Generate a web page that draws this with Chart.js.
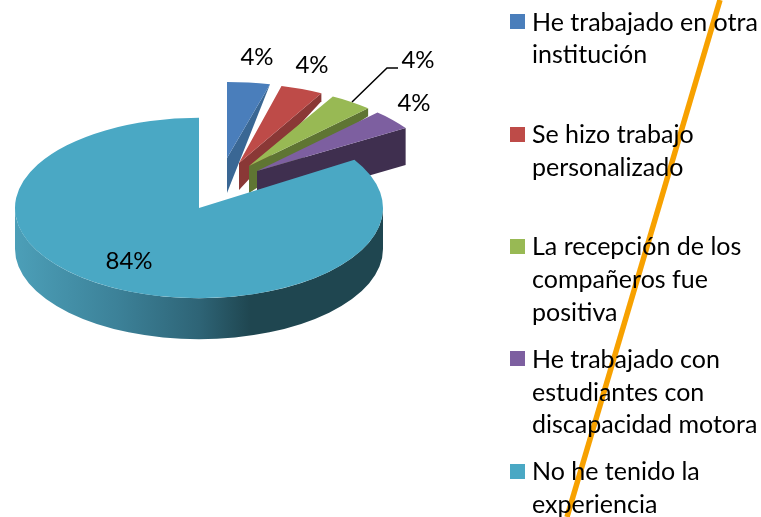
<!DOCTYPE html>
<html lang="es">
<head>
  <meta charset="UTF-8" />
  <title>Experiencia</title>
  <script src="https://cdn.jsdelivr.net/npm/chart.js"></script>
  <style>
    html, body { margin: 0; padding: 0; background: #fff; }
    #page { position: relative; width: 761px; height: 517px; overflow: hidden; font-family: Lato, sans-serif; color: #000; }
    canvas { position: absolute; left: 0; top: 0; }
    #legend { position: absolute; left: 510px; top: 4.7px; margin: 0; padding: 0; list-style: none; width: 251px; }
    #legend li { position: relative; height: 112.4px; padding-left: 22px; box-sizing: border-box; font-size: 25px; line-height: 32.7px; }
    #legend i { position: absolute; left: 0; top: 9.5px; width: 15px; height: 15px; }
  </style>
</head>
<body>
  <div id="page">
    <canvas id="lineCanvas" width="761" height="517"></canvas>
    <canvas id="pieCanvas" width="761" height="517"></canvas>
    <ul id="legend"></ul>
  </div>

  <script>
    const categories = [
      'He trabajado en otra institución',
      'Se hizo trabajo personalizado',
      'La recepción de los compañeros fue positiva',
      'He trabajado con estudiantes con discapacidad motora',
      'No he tenido la experiencia'
    ];
    const percents = [4, 4, 4, 4, 84];
    const lineXs = [720, 567];
    const lineYs = [0, 517];

    const topColors = ['#4a7ebb', '#be4b48', '#98b954', '#7d5fa0', '#4aa8c4'];
    const wallColors = ['#3a6794', '#8a3836', '#5f7533', '#3f2f4f'];

    // where each slice sits and how it is squashed, the picture is not a true projection
    const sliceShape = [
      { dx: 28, dy: -50, r: 173, sy: 0.44, apexDepth: 35, endDepth: 0 },
      { dx: 40, dy: -45, r: 171, sy: 0.465, apexDepth: 27, endDepth: 8 },
      { dx: 50, dy: -42, r: 174, sy: 0.455, apexDepth: 27, endDepth: 8 },
      { dx: 58, dy: -37, r: 176, sy: 0.455, apexDepth: 37, endDepth: 37 },
      { dx: 0, dy: 0, r: 184, sy: 0.49, apexDepth: 41, endDepth: 41 }
    ];
    const labelSpots = [[257, 57], [312, 65], [418, 60], [414, 103], [129, 261]];
    const leader = [[352, 102], [387, 68], [398, 68]];

    function tealWall(ctx, arc, shape) {
      const cx = arc.x, cy = arc.y;
      const grad = ctx.createLinearGradient(cx - shape.r, 0, cx + shape.r, 0);
      grad.addColorStop(0, '#4c9fb8');
      grad.addColorStop(0.28, '#3c8198');
      grad.addColorStop(0.5, '#2e6476');
      grad.addColorStop(0.64, '#1f4650');
      grad.addColorStop(1, '#1f4650');
      ctx.beginPath();
      ctx.ellipse(cx, cy, shape.r, shape.r * shape.sy, 0, 0, Math.PI);
      ctx.ellipse(cx, cy + shape.apexDepth, shape.r, shape.r * shape.sy, 0, Math.PI, 0, true);
      ctx.closePath();
      ctx.fillStyle = grad;
      ctx.fill();
    }

    function sliceWall(ctx, arc, shape, color) {
      const ax = arc.x + shape.dx, ay = arc.y + shape.dy;
      const ex = ax + Math.cos(arc.endAngle) * shape.r;
      const ey = ay + Math.sin(arc.endAngle) * shape.r * shape.sy;
      ctx.beginPath();
      ctx.moveTo(ax, ay);
      ctx.lineTo(ex, ey);
      ctx.lineTo(ex, ey + shape.endDepth);
      ctx.lineTo(ax, ay + shape.apexDepth);
      ctx.closePath();
      ctx.fillStyle = color;
      ctx.fill();
    }

    const pie3d = {
      id: 'pie3d',
      beforeDatasetDraw(chart, args) {
        const ctx = chart.ctx;
        args.meta.data.forEach((arc, i) => {
          const shape = sliceShape[i];
          if (i === 4) tealWall(ctx, arc, shape);
          else sliceWall(ctx, arc, shape, wallColors[i]);
          const k = shape.r / arc.outerRadius;
          ctx.save();
          ctx.translate(arc.x + shape.dx, arc.y + shape.dy);
          ctx.scale(k, k * shape.sy);
          ctx.translate(-arc.x, -arc.y);
          arc.draw(ctx);
          ctx.restore();
        });
        return false;
      },
      afterDatasetsDraw(chart) {
        const ctx = chart.ctx;
        ctx.save();
        ctx.strokeStyle = '#000';
        ctx.lineWidth = 1.5;
        ctx.beginPath();
        leader.forEach((p, i) => i ? ctx.lineTo(p[0], p[1]) : ctx.moveTo(p[0], p[1]));
        ctx.stroke();
        ctx.fillStyle = '#000';
        ctx.font = '24px Lato';
        ctx.textAlign = 'center';
        ctx.textBaseline = 'middle';
        percents.forEach((v, i) => ctx.fillText(v + '%', labelSpots[i][0], labelSpots[i][1]));
        ctx.restore();
      }
    };

    new Chart(document.getElementById('pieCanvas'), {
      type: 'pie',
      data: {
        labels: categories,
        datasets: [{ data: percents, backgroundColor: topColors, borderWidth: 0 }]
      },
      options: {
        responsive: false,
        animation: false,
        layout: { padding: { left: 15, right: 378, top: 24, bottom: 125 } },
        plugins: { legend: { display: false }, tooltip: { enabled: false } }
      },
      plugins: [pie3d]
    });

    new Chart(document.getElementById('lineCanvas'), {
      type: 'line',
      data: {
        datasets: [{
          data: lineXs.map((x, i) => ({ x: x, y: lineYs[i] })),
          borderColor: '#f7a100',
          borderWidth: 5.5,
          pointRadius: 0,
          clip: false
        }]
      },
      options: {
        responsive: false,
        animation: false,
        layout: { padding: 0 },
        scales: {
          x: { type: 'linear', min: 0, max: 761, display: false },
          y: { min: 0, max: 517, reverse: true, display: false }
        },
        plugins: { legend: { display: false }, tooltip: { enabled: false } }
      }
    });

    const legend = document.getElementById('legend');
    categories.forEach((name, i) => {
      const li = document.createElement('li');
      const box = document.createElement('i');
      box.style.background = topColors[i];
      li.appendChild(box);
      li.appendChild(document.createTextNode(name));
      legend.appendChild(li);
    });
  </script>
</body>
</html>
